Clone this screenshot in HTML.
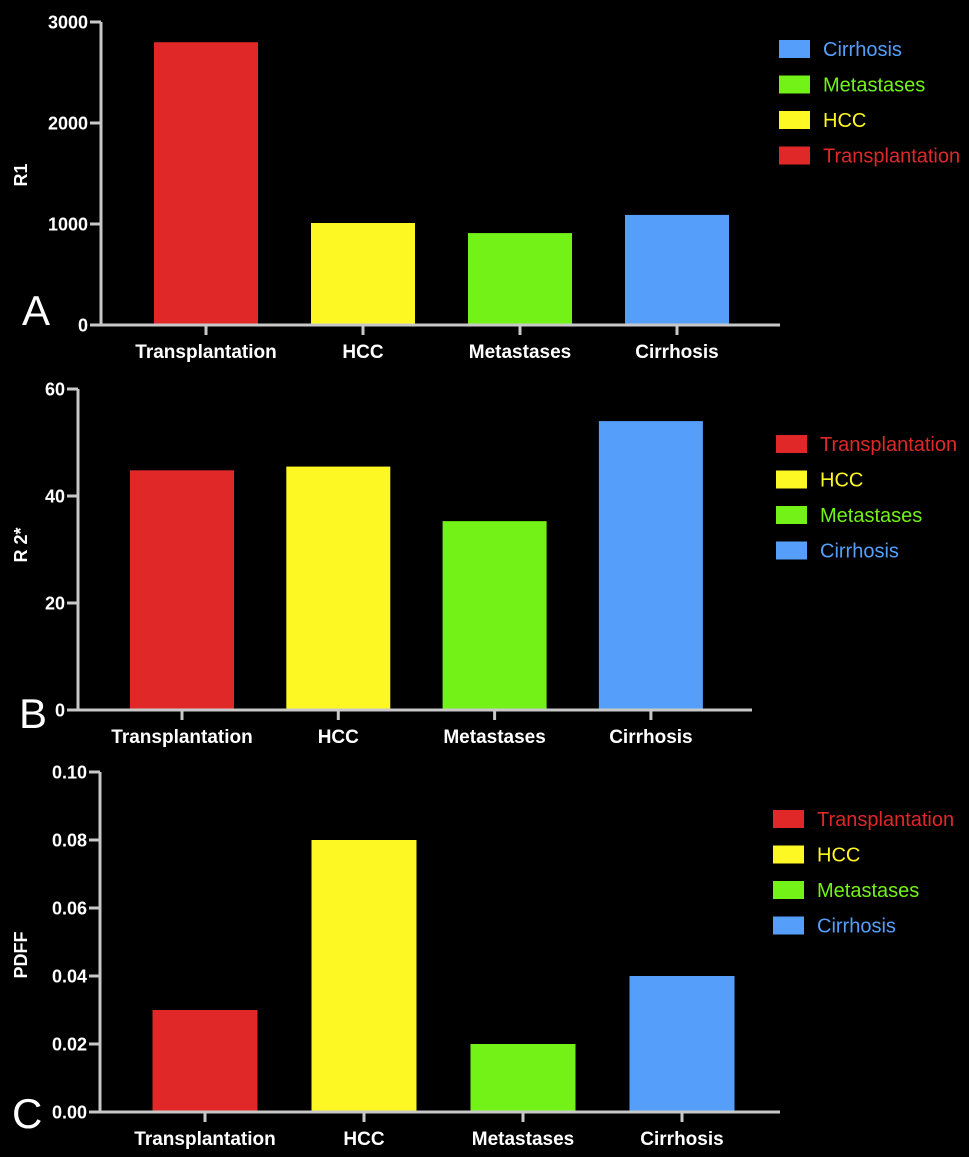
<!DOCTYPE html>
<html><head><meta charset="utf-8"><style>
html,body{margin:0;padding:0;background:#000;}
svg{display:block;font-family:"Liberation Sans",Arial,sans-serif;}
</style></head><body>
<svg id="chart" width="969" height="1157" viewBox="0 0 969 1157"></svg>
<script>
const categories = ["Transplantation","HCC","Metastases","Cirrhosis"];
const colors = ["#e02828","#fdf723","#73f218","#559ffb"];
const r1Values = [2800, 1010, 910, 1090];
const r1Ticks = [0, 1000, 2000, 3000];
const r2Values = [44.8, 45.5, 35.3, 54];
const r2Ticks = [0, 20, 40, 60];
const pdffValues = [0.03, 0.08, 0.02, 0.04];
const pdffTicks = [0, 0.02, 0.04, 0.06, 0.08, 0.10];
const pdffTickLabels = ["0.00","0.02","0.04","0.06","0.08","0.10"];
const legendOrderA = [3, 2, 1, 0];
const legendOrderB = [0, 1, 2, 3];
const legendOrderC = [0, 1, 2, 3];

const NS = "http://www.w3.org/2000/svg";
const svg = document.getElementById("chart");
function mk(tag, attrs, parent, text) {
  const e = document.createElementNS(NS, tag);
  for (const k in attrs) e.setAttribute(k, attrs[k]);
  if (text !== undefined) e.textContent = text;
  (parent || svg).appendChild(e);
  return e;
}

function panel(cfg) {
  const g = mk("g", {});
  
  
  const max = cfg.ticks[cfg.ticks.length - 1];
  const y = v => cfg.y0 - (v / max) * (cfg.y0 - cfg.yTop);
  const step = cfg.step;
  const x = i => cfg.firstCenter + i * step;
  cfg.values.forEach((v, i) => {
    const b = mk("rect", {x: x(i) - cfg.bw / 2, y: y(v), width: cfg.bw, height: cfg.y0 - y(v), fill: colors[i]}, g);
    
    
  });
  const ya = mk("line", {x1: cfg.ax, y1: cfg.yTop, x2: cfg.ax, y2: cfg.y0 + 1.5, stroke: "#c8c8c8", "stroke-width": 3}, g);
  
  
  const xa = mk("line", {x1: cfg.ax - 11, y1: cfg.y0, x2: cfg.xEnd, y2: cfg.y0, stroke: "#c8c8c8", "stroke-width": 3}, g);
  
  
  cfg.ticks.forEach((t, i) => {
    mk("line", {x1: cfg.ax - 11, y1: y(t), x2: cfg.ax, y2: y(t), stroke: "#c8c8c8", "stroke-width": 3}, g);
    const lab = mk("text", {x: cfg.ax - 13, y: y(t) + 6.5, "text-anchor": "end", fill: "#fff", "font-size": 18, "font-weight": "bold"}, g, cfg.tickLabels ? cfg.tickLabels[i] : String(t));
    
    
  });
  categories.forEach((c, i) => {
    mk("line", {x1: x(i), y1: cfg.y0, x2: x(i), y2: cfg.y0 + 10, stroke: "#c8c8c8", "stroke-width": 3}, g);
    const lab = mk("text", {x: x(i), y: cfg.y0 + 33, "text-anchor": "middle", fill: "#fff", "font-size": 19, "font-weight": "bold"}, g, c);
    
    
  });
  const yt = mk("text", {x: 0, y: 0, transform: "translate(" + cfg.titleX + "," + cfg.titleY + ") rotate(-90)", "text-anchor": "middle", fill: "#fff", "font-size": 18, "font-weight": "bold"}, g, cfg.title);
  
  
  const pl = mk("text", {x: cfg.letterX, y: cfg.letterY, fill: "#fff", "font-size": 42}, g, cfg.letter);
  
  
  cfg.legendOrder.forEach((ci, r) => {
    const cy = cfg.legY + r * 35.5;
    const lg = mk("g", {}, g);
    
    
    mk("rect", {x: cfg.legX, y: cy - 9, width: 31, height: 18, fill: colors[ci]}, lg);
    mk("text", {x: cfg.legX + 44, y: cy + 7, fill: colors[ci], "font-size": 20}, lg, categories[ci]);
  });
}

panel({name: "chart-a-r1", values: r1Values, ticks: r1Ticks, ax: 101, yTop: 22, y0: 325, xEnd: 780,
  firstCenter: 206, step: 157, bw: 104, title: "R1", titleX: 27, titleY: 175, letter: "A", letterX: 22, letterY: 325,
  legendOrder: legendOrderA, legX: 779, legY: 49});
panel({name: "chart-b-r2star", values: r2Values, ticks: r2Ticks, ax: 78, yTop: 389, y0: 710, xEnd: 752,
  firstCenter: 182, step: 156.3, bw: 104, title: "R 2*", titleX: 27, titleY: 545, letter: "B", letterX: 19, letterY: 728,
  legendOrder: legendOrderB, legX: 776, legY: 444});
panel({name: "chart-c-pdff", values: pdffValues, ticks: pdffTicks, tickLabels: pdffTickLabels, ax: 100, yTop: 772, y0: 1112, xEnd: 780,
  firstCenter: 205, step: 159, bw: 105, title: "PDFF", titleX: 27, titleY: 955, letter: "C", letterX: 12, letterY: 1128,
  legendOrder: legendOrderC, legX: 773, legY: 819});
</script>
</body></html>
